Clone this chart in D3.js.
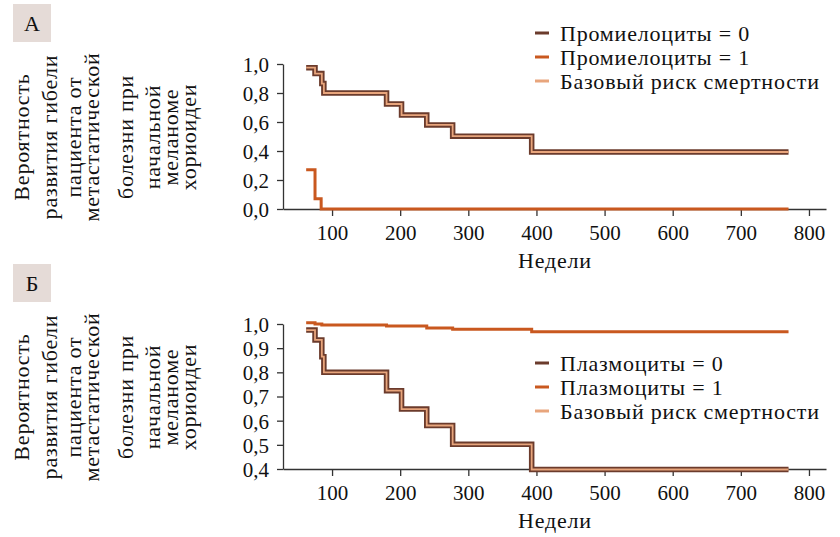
<!DOCTYPE html>
<html lang="ru">
<head>
  <meta charset="utf-8">
  <title>Вероятность развития гибели</title>
  <script src="https://d3js.org/d3.v7.min.js"></script>
  <style>
    body { margin: 0; background: #fff; }
    svg text { font-family: "Liberation Serif", "DejaVu Serif", serif; }
    .wide { letter-spacing: 0.8px; }
  </style>
</head>
<body>
<svg width="840" height="537"></svg>
<script>
// ---- data ----
var weeks0 = [62, 75, 85, 88, 180, 202, 239, 277, 393, 770];
var surv0  = [0.975, 0.934, 0.865, 0.80, 0.724, 0.648, 0.58, 0.502, 0.393, 0.393];
var survB0 = [0.975, 0.934, 0.865, 0.80, 0.724, 0.648, 0.58, 0.502, 0.398, 0.398];

var weeksA1 = [62, 75, 84, 770];
var survA1  = [0.27, 0.07, 0.0, 0.0];

var weeksB1 = [62, 75, 85, 180, 239, 277, 393, 770];
var survB1  = [1.005, 1.0, 0.996, 0.992, 0.983, 0.978, 0.968, 0.968];

var ticksX = [100, 200, 300, 400, 500, 600, 700, 800];
var ticksYA = [0, 0.2, 0.4, 0.6, 0.8, 1.0];
var ticksYB = [0.4, 0.5, 0.6, 0.7, 0.8, 0.9, 1.0];

var labelLines = ["Вероятность", "развития гибели", "пациента от", "метастатической",
                  "болезни при", "начальной", "меланоме", "хориоидеи"];
var legendA = ["Промиелоциты = 0", "Промиелоциты = 1", "Базовый риск смертности"];
var legendB = ["Плазмоциты = 0", "Плазмоциты = 1", "Базовый риск смертности"];

var cDark = "#6b3b2c", cOrange = "#c9581f", cPeach = "#e8a57c";

var svg = d3.select("svg");
var x = d3.scaleLinear().domain([28, 825]).range([283, 826]);
var fmt = function(d) { return d3.format(".1f")(d).replace(".", ","); };

// baselines of the rotated y title lines
var labelX = [29, 57, 81, 99, 133, 160, 178, 196];

function panel(off, letter, yDomain, yTicks, s0, w1, s1, legend, legY) {
  var g = svg.append("g").attr("transform", "translate(0," + off + ")");
  var y = d3.scaleLinear().domain(yDomain).range([209, 64]);

  // letter box
  g.append("rect").attr("x", 13).attr("y", 4).attr("width", 38).attr("height", 38)
    .attr("fill", "#e5dbd7");
  g.append("text").attr("x", 32).attr("y", 31).attr("text-anchor", "middle")
    .style("font-size", "22px").attr("fill", "#111").text(letter);

  // y title
  labelLines.forEach(function(t, i) {
    g.append("text").attr("class", "wide")
      .attr("transform", "translate(" + labelX[i] + ",137) rotate(-90)")
      .attr("text-anchor", "middle")
      .style("font-size", "22px").attr("fill", "#111")
      .text(t);
  });

  // axes
  var ax = g.append("g").attr("transform", "translate(0,209)")
    .call(d3.axisBottom(x).tickValues(ticksX).tickSize(7).tickSizeOuter(0).tickPadding(6));
  var ay = g.append("g").attr("transform", "translate(283,0)")
    .call(d3.axisLeft(y).tickValues(yTicks).tickFormat(fmt).tickSize(6).tickSizeOuter(0).tickPadding(8));
  [ax, ay].forEach(function(a) {
    a.attr("font-family", null);
    a.selectAll("path, line").attr("stroke", "#333").attr("stroke-width", 1.3);
    a.selectAll("text").style("font-size", "21px").attr("fill", "#111");
  });
  ax.selectAll("text").attr("dy", "0.85em");
  ay.selectAll("text").attr("dy", "0.35em");

  g.append("text").attr("class", "wide").attr("x", 518).attr("y", 268)
    .style("font-size", "22px").attr("fill", "#111").text("Недели");

  var line = d3.line().curve(d3.curveStepAfter)
    .x(function(d) { return x(d[0]); }).y(function(d) { return y(d[1]); });

  // group 1
  g.append("path").datum(d3.zip(w1, s1)).attr("d", line)
    .attr("fill", "none").attr("stroke", cOrange).attr("stroke-width", 3);
  // group 0 + baseline hazard
  g.append("path").datum(d3.zip(weeks0, s0)).attr("d", line)
    .attr("fill", "none").attr("stroke", cDark).attr("stroke-width", 5.5);
  g.append("path").datum(d3.zip(weeks0, s0)).attr("d", line)
    .attr("fill", "none").attr("stroke", cPeach).attr("stroke-width", 1.8);

  // legend
  var cols = [cDark, cOrange, cPeach];
  legend.forEach(function(t, i) {
    var yy = legY + i * 24;
    g.append("line").attr("x1", 535).attr("x2", 549).attr("y1", yy).attr("y2", yy)
      .attr("stroke", cols[i]).attr("stroke-width", 3);
    g.append("text").attr("class", "wide").attr("x", 560).attr("y", yy).attr("dy", "0.35em")
      .style("font-size", "22px").attr("fill", "#111").text(t);
  });
}

panel(0, "А", [0, 1], ticksYA, surv0, weeksA1, survA1, legendA, 33);
panel(260, "Б", [0.4, 1], ticksYB, survB0, weeksB1, survB1, legendB, 103);
</script>
</body>
</html>
